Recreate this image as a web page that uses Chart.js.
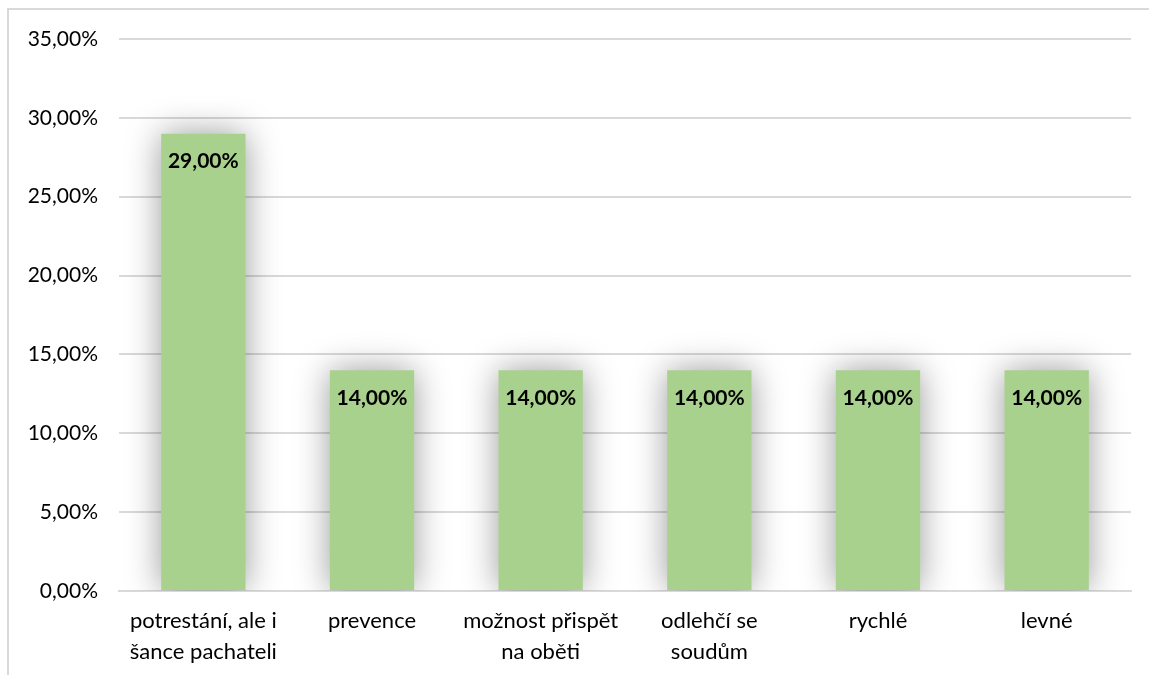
<!DOCTYPE html>
<html>
<head>
<meta charset="utf-8">
<script src="https://cdn.jsdelivr.net/npm/chart.js@4"></script>
<style>
  html, body { margin: 0; padding: 0; background: #fff; }
  #wrap { position: relative; width: 1149px; height: 675px; }
</style>
</head>
<body>
<div id="wrap"><canvas id="Chart1" width="1149" height="675"></canvas></div>
<script>
// Kategorie a hodnoty (v procentech)
const categories = [
  ['potrestání, ale i', 'šance pachateli'],
  'prevence',
  ['možnost přispět', 'na oběti'],
  ['odlehčí se', 'soudům'],
  'rychlé',
  'levné'
];
const values = [29, 14, 14, 14, 14, 14];
const yTicks = [0, 5, 10, 15, 20, 25, 30, 35];

const FONT = 'Lato, "Open Sans", sans-serif';
const GRID = '#d9d9d9';

function fmt(v) {
  return v.toFixed(2).replace('.', ',') + '%';
}

// ramecek kolem grafu (jen levy a horni okraj je videt)
const frame = {
  id: 'frame',
  beforeDraw(chart) {
    const ctx = chart.ctx;
    ctx.save();
    ctx.strokeStyle = GRID;
    ctx.lineWidth = 2;
    ctx.beginPath();
    ctx.moveTo(8, 680);
    ctx.lineTo(8, 9);
    ctx.lineTo(1160, 9);
    ctx.stroke();
    ctx.restore();
  }
};

// mekky stin za sloupci
const barShadow = {
  id: 'barShadow',
  beforeDatasetsDraw(chart) {
    const ctx = chart.ctx;
    ctx.save();
    ctx.shadowColor = 'rgba(0, 0, 0, 0.4)';
    ctx.shadowBlur = 34;
    ctx.shadowOffsetX = 0;
    ctx.shadowOffsetY = 0;
  },
  afterDatasetsDraw(chart) {
    chart.ctx.restore();
  }
};

// popisky hodnot uvnitr sloupcu
const valueLabels = {
  id: 'valueLabels',
  afterDatasetsDraw(chart) {
    const ctx = chart.ctx;
    const meta = chart.getDatasetMeta(0);
    ctx.save();
    ctx.font = 'bold 21px ' + FONT;
    ctx.fillStyle = '#000';
    ctx.textAlign = 'center';
    ctx.textBaseline = 'middle';
    meta.data.forEach((bar, i) => {
      ctx.fillText(fmt(values[i]), bar.x, bar.y + 28);
    });
    ctx.restore();
  }
};

function renderChart() {
  const ctx = document.getElementById('Chart1').getContext('2d');
  new Chart(ctx, {
    type: 'bar',
    data: {
      labels: categories,
      datasets: [{
        data: values,
        backgroundColor: '#a9d18e',
        borderWidth: 0,
        barPercentage: 0.5,
        categoryPercentage: 1
      }]
    },
    options: {
      responsive: false,
      animation: false,
      devicePixelRatio: 1,
      layout: { padding: { left: 8, top: 39, right: 18, bottom: 0 } },
      plugins: {
        legend: { display: false },
        tooltip: { enabled: false }
      },
      scales: {
        x: {
          grid: { display: false, drawTicks: false },
          border: { color: GRID, width: 2 },
          ticks: {
            color: '#000',
            font: { family: FONT, size: 22, lineHeight: 1.38 },
            padding: 15,
            maxRotation: 0,
            autoSkip: false
          },
          afterFit(scale) { scale.height = 84; }
        },
        y: {
          min: 0,
          max: 35,
          afterBuildTicks(scale) {
            scale.ticks = yTicks.map(v => ({ value: v }));
          },
          grid: { color: GRID, lineWidth: 2, drawTicks: false },
          border: { display: false },
          ticks: {
            color: '#000',
            font: { family: FONT, size: 21 },
            padding: 21,
            callback: v => fmt(v)
          },
          afterFit(scale) { scale.width = 111; }
        }
      }
    },
    plugins: [frame, barShadow, valueLabels]
  });
}

document.addEventListener('DOMContentLoaded', renderChart);
</script>
</body>
</html>
